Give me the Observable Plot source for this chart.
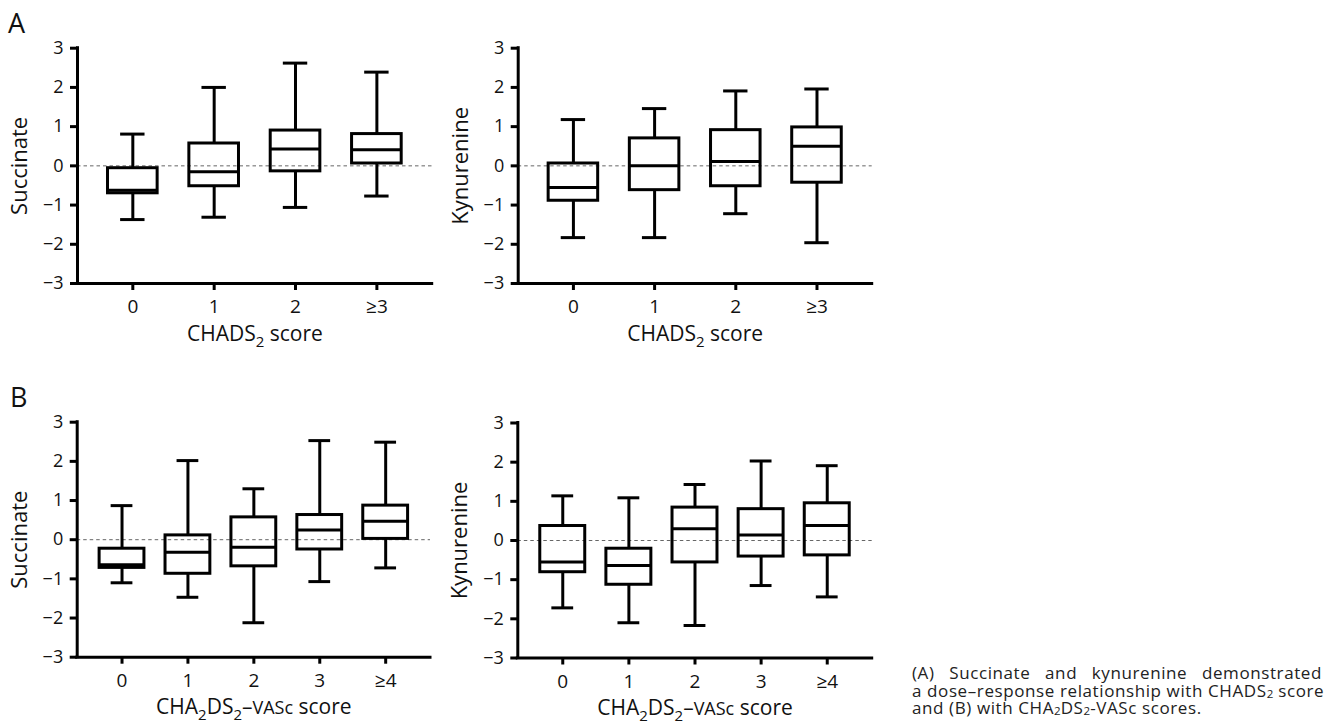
<!DOCTYPE html>
<html><head><meta charset="utf-8">
<script src="https://cdn.jsdelivr.net/npm/d3@7"></script>
<script src="https://cdn.jsdelivr.net/npm/@observablehq/plot@0.6"></script>
<style>
body{margin:0;background:#fff;font-family:"Open Sans",sans-serif;}
#root{position:relative;width:1336px;height:724px;overflow:hidden;background:#fff;}
.panel{position:absolute;}
.letter{position:absolute;font-size:27px;line-height:26px;color:#111;}
#caption{position:absolute;left:912px;top:664px;width:410px;font-size:17px;letter-spacing:0.6px;line-height:17.5px;color:#222;}
#caption div{white-space:nowrap;}
#caption .j{text-align:justify;text-align-last:justify;}
#caption sub{font-size:0.68em;vertical-align:-0.12em;line-height:0;letter-spacing:0;}
</style></head><body><div id="root"></div>
<script>
// Categories / tick labels
const chadsCats = ["0", "1", "2", "≥3"];
const vascCats = ["0", "1", "2", "3", "≥4"];
const yTicks = [-3, -2, -1, 0, 1, 2, 3];

// Panel A, succinate vs CHADS2 (whisker min, Q1, median, Q3, whisker max)
const aSuccMin = [-1.37, -1.31, -1.06, -0.77];
const aSuccQ1  = [-0.70, -0.52, -0.14, 0.06];
const aSuccMed = [-0.62, -0.15, 0.43, 0.41];
const aSuccQ3  = [-0.06, 0.57, 0.90, 0.81];
const aSuccMax = [0.81, 2.00, 2.62, 2.39];

// Panel A, kynurenine vs CHADS2
const aKynMin = [-1.83, -1.83, -1.22, -1.96];
const aKynQ1  = [-0.89, -0.62, -0.52, -0.43];
const aKynMed = [-0.55, 0.00, 0.11, 0.50];
const aKynQ3  = [0.06, 0.70, 0.91, 0.98];
const aKynMax = [1.18, 1.46, 1.91, 1.96];

// Panel B, succinate vs CHA2DS2-VASc
const bSuccMin = [-1.10, -1.47, -2.12, -1.07, -0.72];
const bSuccQ1  = [-0.72, -0.87, -0.68, -0.25, 0.02];
const bSuccMed = [-0.64, -0.32, -0.19, 0.25, 0.47];
const bSuccQ3  = [-0.23, 0.11, 0.57, 0.63, 0.87];
const bSuccMax = [0.87, 2.02, 1.30, 2.53, 2.49];

// Panel B, kynurenine vs CHA2DS2-VASc
const bKynMin = [-1.72, -2.10, -2.17, -1.15, -1.44];
const bKynQ1  = [-0.81, -1.13, -0.56, -0.41, -0.38];
const bKynMed = [-0.55, -0.64, 0.30, 0.14, 0.38];
const bKynQ3  = [0.37, -0.21, 0.84, 0.80, 0.95];
const bKynMax = [1.14, 1.09, 1.43, 2.03, 1.91];

const root = document.getElementById("root");
const fmtInt = d3.format("d");

function makePanel(o) {
  const n = o.cats.length;
  const pad = 0.68;
  const rows = o.cats.map((c, i) => ({i, c, min: o.min[i], q1: o.q1[i], med: o.med[i], q3: o.q3[i], max: o.max[i]}));
  const bw = o.boxW / 2, cw = o.capW / 2;
  const sw = 3;
  const xMin = -pad, yMin = d3.min(yTicks), yMax = d3.max(yTicks);
  const svg = Plot.plot({
    width: o.width, height: o.height,
    marginTop: o.mt, marginBottom: o.mb, marginLeft: o.ml, marginRight: o.mr,
    style: {fontFamily: '"Open Sans", sans-serif', color: "#111", background: "#fff", overflow: "visible"},
    x: {domain: [xMin, n - 1 + pad]},
    y: {domain: [yMin, yMax]},
    marks: [
      Plot.ruleY([0], {stroke: "#666", strokeWidth: 1, strokeDasharray: "3.5,3"}),
      Plot.ruleX(rows, {x: "i", y1: "min", y2: "q1", stroke: "#000", strokeWidth: sw}),
      Plot.ruleX(rows, {x: "i", y1: "q3", y2: "max", stroke: "#000", strokeWidth: sw}),
      Plot.ruleY(rows, {y: "min", x1: d => d.i - cw, x2: d => d.i + cw, stroke: "#000", strokeWidth: sw}),
      Plot.ruleY(rows, {y: "max", x1: d => d.i - cw, x2: d => d.i + cw, stroke: "#000", strokeWidth: sw}),
      Plot.rect(rows, {x1: d => d.i - bw, x2: d => d.i + bw, y1: "q1", y2: "q3", fill: "none", stroke: "#000", strokeWidth: sw}),
      Plot.ruleY(rows, {y: "med", x1: d => d.i - bw, x2: d => d.i + bw, stroke: "#000", strokeWidth: sw}),
      Plot.ruleX([xMin], {stroke: "#000", strokeWidth: sw, strokeLinecap: "square"}),
      Plot.ruleY([yMin], {stroke: "#000", strokeWidth: sw, strokeLinecap: "square"}),
      Plot.axisY({ticks: yTicks, tickFormat: fmtInt, tickSize: 7, strokeWidth: sw, stroke: "#000", fontSize: 18, tickPadding: 7,
        label: o.yLabel, labelAnchor: "center", labelOffset: 66}),
      Plot.axisX({ticks: d3.range(n), tickFormat: i => o.cats[i], tickSize: 7, strokeWidth: sw, stroke: "#000",
        fontSize: 19, tickPadding: 9, label: "xlabel", labelAnchor: "center", labelOffset: 57})
    ]
  });
  const s = d3.select(svg);
  s.selectAll('g[aria-label="y-axis label"] text').attr("font-size", 22).text(o.yLabel);
  const xt = s.select('g[aria-label="x-axis label"] text').attr("font-size", 21);
  xt.text(null);
  o.xParts.forEach(p => {
    const t = xt.append("tspan").text(p.t);
    if (p.sub) t.attr("dy", 6).attr("font-size", 15);
    if (p.after) t.attr("dy", -6);
    if (p.small) t.attr("font-size", 18);
  });
  const div = document.createElement("div");
  div.className = "panel";
  div.style.left = o.left + "px";
  div.style.top = o.top + "px";
  div.appendChild(svg);
  root.appendChild(div);
}

const chadsLabel = [{t: "CHADS"}, {t: "2", sub: true}, {t: " score", after: true}];
const vascLabel = [{t: "CHA"}, {t: "2", sub: true}, {t: "DS", after: true}, {t: "2", sub: true}, {t: "–", after: true}, {t: "VASc", small: true}, {t: " score"}];

makePanel({cats: chadsCats, min: aSuccMin, q1: aSuccQ1, med: aSuccMed, q3: aSuccQ3, max: aSuccMax,
  yLabel: "Succinate", xParts: chadsLabel, boxW: 0.61, capW: 0.30,
  left: 0, top: 0, width: 440, height: 350, mt: 47.7, mb: 67, ml: 77, mr: 8.3});
makePanel({cats: chadsCats, min: aKynMin, q1: aKynQ1, med: aKynMed, q3: aKynQ3, max: aKynMax,
  yLabel: "Kynurenine", xParts: chadsLabel, boxW: 0.61, capW: 0.30,
  left: 440, top: 0, width: 440, height: 350, mt: 47.7, mb: 67, ml: 77.7, mr: 8.3});
makePanel({cats: vascCats, min: bSuccMin, q1: bSuccQ1, med: bSuccMed, q3: bSuccQ3, max: bSuccMax,
  yLabel: "Succinate", xParts: vascLabel, boxW: 0.68, capW: 0.33,
  left: 0, top: 370, width: 440, height: 354, mt: 51.7, mb: 67.3, ml: 76.7, mr: 10});
makePanel({cats: vascCats, min: bKynMin, q1: bKynQ1, med: bKynMed, q3: bKynQ3, max: bKynMax,
  yLabel: "Kynurenine", xParts: vascLabel, boxW: 0.68, capW: 0.33,
  left: 440, top: 370, width: 440, height: 354, mt: 52.5, mb: 66.5, ml: 77.3, mr: 8.3});

function addLetter(t, x, y) {
  const d = document.createElement("div");
  d.className = "letter"; d.textContent = t;
  d.style.left = x + "px"; d.style.top = y + "px";
  root.appendChild(d);
}
addLetter("A", 8, 10);
addLetter("B", 10, 384);

const cap = document.createElement("div");
cap.id = "caption";
cap.innerHTML = '<div class="j">(A) Succinate and kynurenine demonstrated</div>' +
  '<div class="j">a dose–response relationship with CHADS<sub>2</sub> score</div>' +
  '<div>and (B) with CHA<sub>2</sub>DS<sub>2</sub>-VASc scores.</div>';
root.appendChild(cap);
</script></body></html>
